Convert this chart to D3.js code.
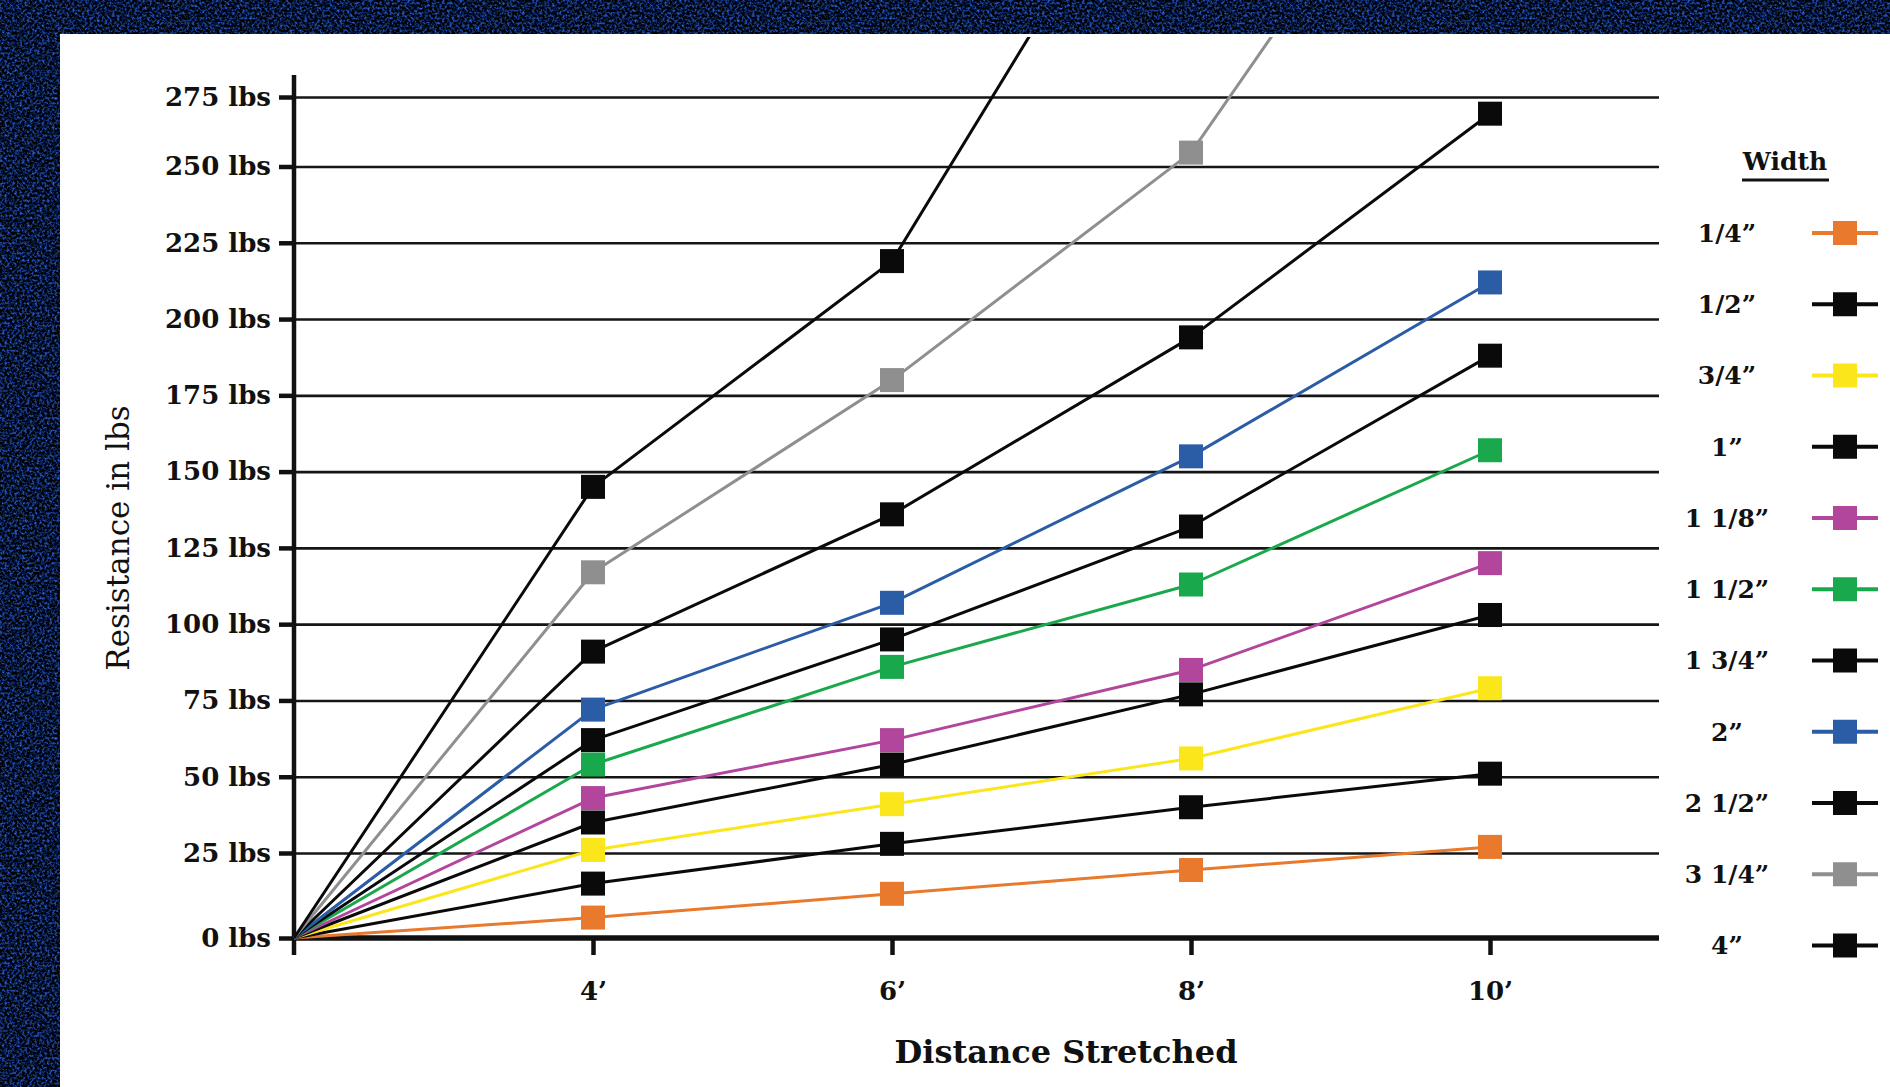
<!DOCTYPE html>
<html>
<head>
    <meta charset="utf-8">
    <title>Resistance by band width</title>
    <style>
      body { margin: 0; background: #0a1733; }
      svg { display: block; }
      text { font-family: "DejaVu Serif", serif; fill: #111; }
    </style>
</head>
<body>
<svg width="1890" height="1087"></svg>
<script src="https://d3js.org/d3.v7.min.js"></script>
<script>

// x categories, first one is the origin (no label)
const distances = ["0", "4’", "6’", "8’", "10’"]
const xTickLabels = ["4’", "6’", "8’", "10’"]
const yTicks = [0, 25, 50, 75, 100, 125, 150, 175, 200, 225, 250, 275]

const widths = ["1/4”", "1/2”", "3/4”", "1”", "1 1/8”", "1 1/2”", "1 3/4”", "2”", "2 1/2”", "3 1/4”", "4”"]
const colors = ["#e8792d", "#0a0a0a", "#fbe61c", "#0a0a0a", "#b2469c", "#1aa84c", "#0a0a0a", "#2b5ca6", "#0a0a0a", "#8f8f8f", "#0a0a0a"]

// resistance in lbs at 0, 4', 6', 8', 10'
const w14  = [0, 6, 13, 20, 27]
const w12  = [0, 16, 28, 40, 51]
const w34  = [0, 26, 41, 56, 79]
const w1   = [0, 35, 54, 77, 103]
const w118 = [0, 43, 62, 85, 120]
const w112 = [0, 54, 86, 113, 157]
const w134 = [0, 62, 95, 132, 188]
const w2   = [0, 72, 107, 155, 212]
const w212 = [0, 91, 136, 194, 269]
const w314 = [0, 117, 180, 255, 410]
const w4   = [0, 145, 219, 392, 560]

const seriesValues = [w14, w12, w34, w1, w118, w112, w134, w2, w212, w314, w4]

const series = widths.map((name, i) => ({
  name: name,
  color: colors[i],
  points: distances.map((d, j) => ({ dist: d, value: seriesValues[i][j] }))
}))

const svg = d3.select("svg")

// background (denim look) + white card
const defs = svg.append("defs")
const f = defs.append("filter").attr("id", "denim")
  .attr("x", 0).attr("y", 0).attr("width", "100%").attr("height", "100%")
  .attr("color-interpolation-filters", "sRGB")
f.append("feTurbulence").attr("type", "fractalNoise")
  .attr("baseFrequency", 0.4).attr("numOctaves", 3).attr("seed", 7).attr("result", "n")
f.append("feColorMatrix").attr("in", "n").attr("type", "matrix")
  .attr("values", "0.45 0 0 0 -0.2  0.9 0 0 0 -0.36  1.9 0 0 0 -0.72  0 0 0 0 1")

svg.append("rect").attr("width", 1890).attr("height", 1087).attr("fill", "#0a1733")
svg.append("rect").attr("width", 1890).attr("height", 1087).attr("filter", "url(#denim)")
svg.append("rect").attr("x", 60).attr("y", 34).attr("width", 1830).attr("height", 1053).attr("fill", "#fff")

defs.append("clipPath").attr("id", "card")
  .append("rect").attr("x", 60).attr("y", 37).attr("width", 1830).attr("height", 1050)

const x = d3.scalePoint().domain(distances).range([294, 1490])
// the printed chart is a little stretched near the bottom
const y = d3.scaleLinear().domain([0, 25, 250, 275]).range([938, 853, 166.5, 97])

const plotRight = 1659

// gridlines
svg.append("g")
  .attr("transform", `translate(${x("0")},0)`)
  .call(d3.axisLeft(y).tickValues(yTicks.slice(1)).tickSize(-(plotRight - x("0"))).tickFormat(""))
  .call(g => g.select(".domain").remove())
  .call(g => g.selectAll("line").attr("stroke", "#151515").attr("stroke-width", 2.6))

// y axis
const yAxis = svg.append("g")
  .attr("transform", `translate(${x("0")},0)`)
  .call(d3.axisLeft(y).tickValues(yTicks).tickSize(15).tickPadding(8).tickFormat(d => d + " lbs"))
yAxis.select(".domain").remove()
yAxis.selectAll("line").attr("stroke", "#111").attr("stroke-width", 4.5)
yAxis.selectAll("text").attr("font-family", "DejaVu Serif").attr("font-weight", "bold")
  .attr("font-size", 26).attr("fill", "#1a1a1a")
svg.append("line")
  .attr("x1", x("0")).attr("x2", x("0")).attr("y1", 75).attr("y2", 955)
  .attr("stroke", "#111").attr("stroke-width", 4.5)

// x axis
const xAxis = svg.append("g")
  .attr("transform", `translate(0,${y(0)})`)
  .call(d3.axisBottom(x).tickValues(xTickLabels).tickSize(17).tickPadding(27))
xAxis.select(".domain").remove()
xAxis.selectAll("line").attr("stroke", "#111").attr("stroke-width", 4.5)
xAxis.selectAll("text").attr("font-family", "DejaVu Serif").attr("font-weight", "bold")
  .attr("font-size", 26).attr("fill", "#1a1a1a")
svg.append("line")
  .attr("x1", x("0") - 2).attr("x2", plotRight).attr("y1", y(0)).attr("y2", y(0))
  .attr("stroke", "#111").attr("stroke-width", 5.5)

// titles
svg.append("text")
  .attr("transform", `translate(129,538) rotate(-90)`)
  .attr("text-anchor", "middle")
  .attr("font-size", 31)
  .text("Resistance in lbs")

svg.append("text")
  .attr("x", 1066).attr("y", 1063)
  .attr("text-anchor", "middle")
  .attr("font-size", 32).attr("font-weight", "bold")
  .text("Distance Stretched")

// series
const line = d3.line().x(d => x(d.dist)).y(d => y(d.value))
const plot = svg.append("g").attr("clip-path", "url(#card)")

plot.selectAll("path.series")
  .data(series)
  .join("path")
    .attr("class", "series")
    .attr("fill", "none")
    .attr("stroke", d => d.color)
    .attr("stroke-width", 3)
    .attr("stroke-linejoin", "round")
    .attr("d", d => line(d.points))

const sq = 24
plot.selectAll("g.marks")
  .data(series)
  .join("g")
    .attr("class", "marks")
    .attr("fill", d => d.color)
  .selectAll("rect")
  .data(d => d.points.slice(1))
  .join("rect")
    .attr("x", d => x(d.dist) - sq / 2)
    .attr("y", d => y(d.value) - sq / 2)
    .attr("width", sq).attr("height", sq)

// legend
const lx = 1727, lm = 1845
svg.append("text")
  .attr("x", 1785).attr("y", 170)
  .attr("text-anchor", "middle")
  .attr("font-size", 25).attr("font-weight", "bold")
  .text("Width")
svg.append("line")
  .attr("x1", 1742).attr("x2", 1829).attr("y1", 180).attr("y2", 180)
  .attr("stroke", "#111").attr("stroke-width", 3)

const legend = svg.append("g").selectAll("g")
  .data(series)
  .join("g")
    .attr("transform", (d, i) => `translate(0,${233 + i * 71.25})`)

legend.append("text")
  .attr("x", lx).attr("y", 0).attr("dy", "0.35em")
  .attr("text-anchor", "middle")
  .attr("font-size", 25).attr("font-weight", "bold")
  .text(d => d.name)

legend.append("line")
  .attr("x1", lm - 33).attr("x2", lm + 33)
  .attr("stroke", d => d.color).attr("stroke-width", 4)

legend.append("rect")
  .attr("x", lm - sq / 2).attr("y", -sq / 2)
  .attr("width", sq).attr("height", sq)
  .attr("fill", d => d.color)

</script>
</body>
</html>
